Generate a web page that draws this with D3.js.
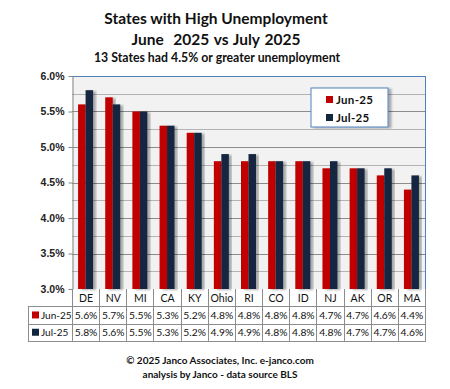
<!DOCTYPE html>
<html>
<head>
<meta charset="utf-8">
<script src="https://cdn.jsdelivr.net/npm/d3@7"></script>
<style>
  body { margin: 0; background: #fff; }
  svg { font-family: Lato, "Open Sans", sans-serif; }
</style>
</head>
<body>
<svg id="chart" width="450" height="389"></svg>
<script>
// data
const states = ['DE', 'NV', 'MI', 'CA', 'KY', 'Ohio', 'RI', 'CO', 'ID', 'NJ', 'AK', 'OR', 'MA'];
const jun25 = [5.6, 5.7, 5.5, 5.3, 5.2, 4.8, 4.8, 4.8, 4.8, 4.7, 4.7, 4.6, 4.4];
const jul25 = [5.8, 5.6, 5.5, 5.3, 5.2, 4.9, 4.9, 4.8, 4.8, 4.8, 4.7, 4.7, 4.6];
const seriesNames = ['Jun-25', 'Jul-25'];
const yTicks = [3.0, 3.5, 4.0, 4.5, 5.0, 5.5, 6.0];

const colors = ['#c00000', '#13263f'];
const series = [jun25, jul25];

const margin = {top: 76, left: 72, right: 25, bottom: 100};
const width = 450 - margin.left - margin.right;
const height = 389 - margin.top - margin.bottom;

const svg = d3.select('#chart');

// drop shadow for bars and legend
const defs = svg.append('defs');
const f = defs.append('filter').attr('id', 'shadow')
  .attr('x', '-20%').attr('y', '-5%').attr('width', '160%').attr('height', '110%');
f.append('feDropShadow').attr('dx', 3).attr('dy', 1).attr('stdDeviation', 1.3)
  .attr('flood-color', '#000').attr('flood-opacity', 0.3);

// titles
svg.append('text').attr('x', 216).attr('y', 24).attr('text-anchor', 'middle')
  .attr('font-weight', 'bold').attr('font-size', '15.5px').attr('fill', '#111')
  .text('States with High Unemployment');
svg.append('text').attr('x', 216).attr('y', 45).attr('text-anchor', 'middle')
  .attr('font-weight', 'bold').attr('font-size', '15.5px').attr('fill', '#111')
  .attr('xml:space', 'preserve').attr('word-spacing', '1px')
  .text('June  2025 vs July 2025');
svg.append('text').attr('x', 217).attr('y', 62).attr('text-anchor', 'middle')
  .attr('font-weight', 'bold').attr('font-size', '12.3px').attr('fill', '#111')
  .text('13 States had 4.5% or greater unemployment');

const g = svg.append('g')
  .attr('transform', 'translate(' + margin.left + ',' + margin.top + ')');

const x = d3.scaleBand().domain(states).range([0, width]);
const y = d3.scaleLinear().domain([3, 6]).range([height, 0]);
const xs = d3.scaleBand().domain(seriesNames).range([0, 15]);

g.append('rect').attr('width', width).attr('height', height).attr('fill', '#f2f2f2');

// gridlines every 0.25%
g.append('g').selectAll('line')
  .data(d3.range(3.25, 6.0, 0.25))
  .join('line')
  .attr('x1', 0).attr('x2', width)
  .attr('y1', d => Math.round(y(d)) + 0.5).attr('y2', d => Math.round(y(d)) + 0.5)
  .attr('stroke', (d, i) => i % 2 ? '#8c8c8c' : '#b4b4b4');

// bars
states.forEach((s, i) => {
  const bx = x(s) + (x.bandwidth() - 15) / 2;
  series.forEach((vals, j) => {
    g.append('rect')
      .attr('x', bx + xs(seriesNames[j]))
      .attr('y', y(vals[i]))
      .attr('width', xs.bandwidth())
      .attr('height', height - y(vals[i]))
      .attr('fill', colors[j])
      .attr('filter', 'url(#shadow)');
  });
});

// frame: blue top/right, gray left axis
g.append('line').attr('x1', 0).attr('x2', width).attr('y1', 0.5).attr('y2', 0.5).attr('stroke', '#4f81bd');
g.append('line').attr('x1', width + 0.5).attr('x2', width + 0.5).attr('y1', 0).attr('y2', height).attr('stroke', '#4f81bd');

const yAxis = g.append('g')
  .attr('transform', 'translate(0.5,0)')
  .call(d3.axisLeft(y).tickValues(yTicks).tickFormat(d => d.toFixed(1) + '%').tickSize(4).tickSizeOuter(0));
yAxis.select('.domain').attr('stroke', '#868686');
yAxis.selectAll('line').attr('stroke', '#868686');
yAxis.selectAll('text').attr('font-size', '10.5px').attr('font-weight', 'bold').attr('fill', '#222')
  .attr('x', -8);

// data table under the plot
const t = svg.append('g').attr('transform', 'translate(' + margin.left + ',' + (margin.top + height) + ')');
const rowH = 17.3;
const tableLeft = 28 - margin.left;
const gridC = '#8c8c8c';

// vertical dividers
t.selectAll('.vdiv').data(states.concat(['end']))
  .join('line').attr('class', 'vdiv')
  .attr('x1', (d, i) => Math.round(i * x.step()) + 0.5)
  .attr('x2', (d, i) => Math.round(i * x.step()) + 0.5)
  .attr('y1', 0).attr('y2', rowH * 3)
  .attr('stroke', gridC);
// horizontal lines
[1, 2, 3].forEach(r => {
  t.append('line').attr('x1', tableLeft).attr('x2', width + 1)
    .attr('y1', Math.round(r * rowH) + 0.5).attr('y2', Math.round(r * rowH) + 0.5)
    .attr('stroke', gridC);
});
t.append('line').attr('x1', tableLeft + 0.5).attr('x2', tableLeft + 0.5)
  .attr('y1', Math.round(rowH) + 0.5).attr('y2', Math.round(rowH * 3) + 0.5).attr('stroke', gridC);

// header labels
t.selectAll('.hdr').data(states).join('text').attr('class', 'hdr')
  .attr('x', d => x(d) + x.bandwidth() / 2 + 0.5).attr('y', rowH / 2 + 4)
  .attr('text-anchor', 'middle').attr('font-size', '10.5px').attr('fill', '#111')
  .text(d => d);

series.forEach((vals, j) => {
  const ry = rowH * (j + 1);
  t.append('rect').attr('x', tableLeft + 4).attr('y', ry + rowH / 2 - 3.5)
    .attr('width', 7).attr('height', 7).attr('fill', colors[j]);
  t.append('text').attr('x', tableLeft + 13).attr('y', ry + rowH / 2 + 4)
    .attr('font-size', '10px').attr('fill', '#111').text(seriesNames[j]);
  t.selectAll('.v' + j).data(vals).join('text').attr('class', 'v' + j)
    .attr('x', (d, i) => x(states[i]) + x.bandwidth() / 2 + 0.5).attr('y', ry + rowH / 2 + 4)
    .attr('text-anchor', 'middle').attr('font-size', '10.3px').attr('fill', '#111')
    .text(d => d.toFixed(1) + '%');
});

// legend
const lg = svg.append('g').attr('transform', 'translate(311,88)');
lg.append('rect').attr('width', 77).attr('height', 39).attr('fill', '#fff')
  .attr('stroke', '#4f81bd').attr('filter', 'url(#shadow)');
seriesNames.forEach((n, j) => {
  lg.append('rect').attr('x', 15).attr('y', 8 + j * 18).attr('width', 7).attr('height', 7).attr('fill', colors[j]);
  lg.append('text').attr('x', 25).attr('y', 16 + j * 18).attr('font-size', '11.5px')
    .attr('font-weight', 'bold').attr('fill', '#111').attr('letter-spacing', '0.3px').text(n);
});

// footer
svg.append('text').attr('x', 220).attr('y', 364).attr('text-anchor', 'middle')
  .attr('font-weight', 'bold').attr('font-size', '10px').attr('fill', '#111')
  .text('\u00a9 2025 Janco Associates, Inc. e-janco.com');
svg.append('text').attr('x', 220).attr('y', 378).attr('text-anchor', 'middle')
  .attr('font-weight', 'bold').attr('font-size', '10px').attr('fill', '#111')
  .text('analysis by Janco - data source BLS');
</script>
</body>
</html>
